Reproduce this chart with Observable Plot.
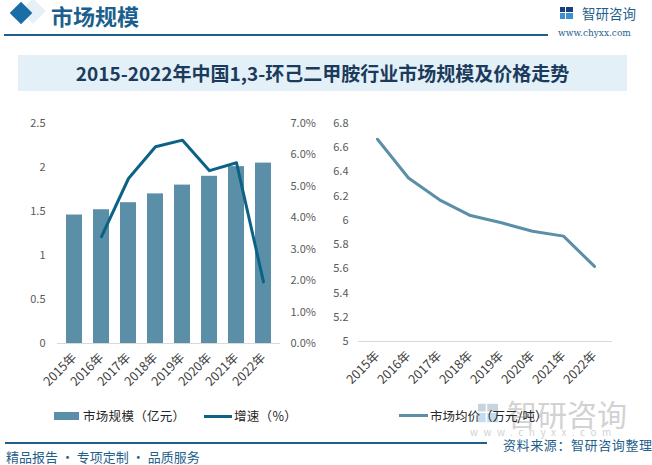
<!DOCTYPE html>
<html>
<head>
<meta charset="utf-8">
<script src="https://cdn.jsdelivr.net/npm/d3@7"></script>
<script src="https://cdn.jsdelivr.net/npm/@observablehq/plot@0.6"></script>
<style>
  html, body { margin: 0; padding: 0; background: #fff; }
  body { font-family: "Noto Sans CJK SC", "Noto Sans", sans-serif; }
  #root { position: relative; width: 652px; height: 465px; overflow: hidden; background: #fff; }
  .abs { position: absolute; white-space: nowrap; }
  .plotbox { position: absolute; }
  .plotbox svg { display: block; overflow: visible; }
</style>
</head>
<body>
<div id="root">
  <!-- header -->
  <div class="abs" style="width:18px;height:18px;background:#dce9f3;transform:rotate(45deg);opacity:0.7;left:24px;top:2px;"></div>
  <div class="abs" style="left:13px;top:5px;width:16px;height:16px;background:#1a6ea8;transform:rotate(45deg);"></div>
  <div class="abs" style="left:51px;top:0px;font-size:22px;font-weight:bold;color:#1a5f8e;line-height:30px;">市场规模</div>
  <div class="abs" style="left:4px;top:34px;width:544px;height:1.5px;background:#1f5f8b;"></div>
  <svg class="abs" style="left:560px;top:7px;" width="13" height="12" viewBox="0 0 13 12">
    <rect x="0" y="0" width="5" height="5" fill="#1a3f7a"/>
    <rect x="0" y="6" width="5" height="6" fill="#3b8fd0"/>
    <rect x="6" y="0" width="7" height="5" fill="#1a3f7a"/>
    <rect x="6" y="6" width="7" height="6" fill="#3b8fd0"/>
  </svg>
  <div class="abs" style="left:582px;top:4px;font-size:13.5px;color:#1f5f8b;line-height:18px;">智研咨询</div>
  <div class="abs" style="left:558px;top:28px;font-size:9px;color:#1f5f8b;font-family:'DejaVu Serif',serif;line-height:11px;">www.chyxx.com</div>

  <!-- title box -->
  <div class="abs" style="left:18px;top:55px;width:609px;height:36px;background:#e4f0f8;"></div>
  <div class="abs" id="title" style="left:18px;top:55px;width:609px;height:36px;line-height:36px;text-align:center;font-size:19px;font-weight:bold;color:#1b3b5c;">2015-2022年中国1,3-环己二甲胺行业市场规模及价格走势</div>

  <!-- bottom-right watermark -->
  <svg class="abs" style="left:478px;top:403px;" width="20" height="20" viewBox="0 0 13 12">
    <rect x="0" y="0" width="5" height="5" fill="#c9d3dc"/>
    <rect x="0" y="6" width="5" height="6" fill="#c4dcef"/>
    <rect x="6" y="0" width="7" height="5" fill="#c9d3dc"/>
    <rect x="6" y="6" width="7" height="6" fill="#c4dcef"/>
  </svg>
  <div class="abs" style="left:507px;top:398px;font-size:30px;color:#d2d2d2;line-height:30px;">智研咨询</div>
  <div class="abs" style="left:470px;top:428px;font-size:10px;color:#d2d2d2;letter-spacing:5.5px;line-height:8px;">www.chyxx.com</div>

  <!-- plots -->
  <div class="plotbox" id="leftBars" style="left:0px;top:100px;"></div>
  <div class="plotbox" id="leftLine" style="left:0px;top:100px;"></div>
  <div class="plotbox" id="rightPlot" style="left:320px;top:100px;"></div>

  <!-- legends -->
  <div class="abs" style="left:54px;top:412px;width:25px;height:8px;background:#5b8fa8;"></div>
  <div class="abs" style="left:83px;top:407px;font-size:12.5px;color:#262626;line-height:18px;letter-spacing:0.3px;">市场规模（亿元）</div>
  <div class="abs" style="left:204px;top:414.5px;width:28px;height:3px;background:#0b6285;"></div>
  <div class="abs" style="left:234px;top:407px;font-size:12.5px;color:#262626;line-height:18px;letter-spacing:0.3px;">增速（%）</div>
  <div class="abs" style="left:399px;top:414px;width:29px;height:3px;background:#5b8fa8;"></div>
  <div class="abs" style="left:430px;top:407px;font-size:12.5px;color:#262626;line-height:18px;">市场均价（万元/吨）</div>

  <!-- footer -->
  <div class="abs" style="left:5px;top:442px;width:482px;height:1.5px;background:#1f5f8b;"></div>
  <div class="abs" style="left:503px;top:437px;font-size:13px;color:#1f5f8b;line-height:15px;letter-spacing:0.6px;">资料来源：智研咨询整理</div>
  <div class="abs" style="left:6px;top:448px;font-size:13px;color:#1f5f8b;line-height:18px;">精品报告 · 专项定制 · 品质服务</div>
</div>

<script>
// ---- data ----
const years = ["2015", "2016", "2017", "2018", "2019", "2020", "2021", "2022"];
const marketSize = [1.46, 1.52, 1.60, 1.70, 1.80, 1.90, 2.01, 2.05];            // 亿元
const growthYears = ["2016", "2017", "2018", "2019", "2020", "2021", "2022"];
const growthRate = [3.4, 5.25, 6.26, 6.47, 5.5, 5.75, 1.96];                     // %
const avgPrice = [6.67, 6.35, 6.17, 6.04, 5.98, 5.91, 5.87, 5.62];              // 万元/吨
const leftTicks = [0, 0.5, 1, 1.5, 2, 2.5];
const rightTicks = [0, 1, 2, 3, 4, 5, 6, 7];
const priceTicks = [5, 5.2, 5.4, 5.6, 5.8, 6, 6.2, 6.4, 6.6, 6.8];

const sizeData = years.map((y, i) => ({year: y, value: marketSize[i]}));
const growthData = growthYears.map((y, i) => ({year: y, value: growthRate[i]}));
const priceData = years.map((y, i) => ({year: y, value: avgPrice[i]}));

const FONT = '"Noto Sans CJK SC", "Noto Sans", sans-serif';
const W = 330, H = 300;
const common = {
  width: W, height: H,
  style: {fontFamily: FONT, fontSize: "11px", color: "#595959", background: "transparent", overflow: "visible"}
};

// left: bars
const leftBars = Plot.plot({
  ...common,
  marginLeft: 57, marginRight: 50, marginTop: 23, marginBottom: 57,
  x: {domain: years, paddingInner: 0.42, paddingOuter: 0.25, label: null},
  y: {domain: [0, 2.5], label: null},
  marks: [
    Plot.barY(sizeData, {x: "year", y: "value", fill: "#5b8fa8"}),
    Plot.ruleY([0], {stroke: "#d9d9d9", strokeWidth: 1}),
    Plot.axisY({ticks: leftTicks, tickSize: 0, tickPadding: 12, tickFormat: d => String(d), fill: "#595959"}),
    Plot.axisX({tickRotate: -45, tickSize: 0, tickPadding: 12, tickFormat: d => d + "年", fill: "#404040", fontSize: 12.5})
  ]
});
document.getElementById("leftBars").appendChild(leftBars);

// left: growth line with right axis
const leftLine = Plot.plot({
  ...common,
  marginLeft: 57, marginRight: 50, marginTop: 23, marginBottom: 57,
  x: {type: "point", domain: years, padding: 0.54, axis: null},
  y: {domain: [0, 7], label: null},
  marks: [
    Plot.lineY(growthData, {x: "year", y: "value", stroke: "#0b6285", strokeWidth: 3, strokeLinejoin: "round"}),
    Plot.axisY({anchor: "right", ticks: rightTicks, tickSize: 0, tickPadding: 10, tickFormat: d => d.toFixed(1) + "%", fill: "#595959"})
  ]
});
document.getElementById("leftLine").appendChild(leftLine);

// right: price line
const rightPlot = Plot.plot({
  ...common,
  marginLeft: 38, marginRight: 38, marginTop: 23, marginBottom: 59,
  x: {type: "point", domain: years, padding: 0.5, label: null},
  y: {domain: [5, 6.8], label: null},
  marks: [
    Plot.ruleY([5], {stroke: "#d9d9d9", strokeWidth: 1}),
    Plot.lineY(priceData, {x: "year", y: "value", stroke: "#5b8fa8", strokeWidth: 3, strokeLinejoin: "round"}),
    Plot.axisY({ticks: priceTicks, tickSize: 0, tickPadding: 10, tickFormat: d => String(+d.toFixed(1)), fill: "#595959"}),
    Plot.axisX({tickRotate: -45, tickSize: 0, tickPadding: 12, tickFormat: d => d + "年", fill: "#404040", fontSize: 12.5})
  ]
});
document.getElementById("rightPlot").appendChild(rightPlot);
</script>
</body>
</html>
